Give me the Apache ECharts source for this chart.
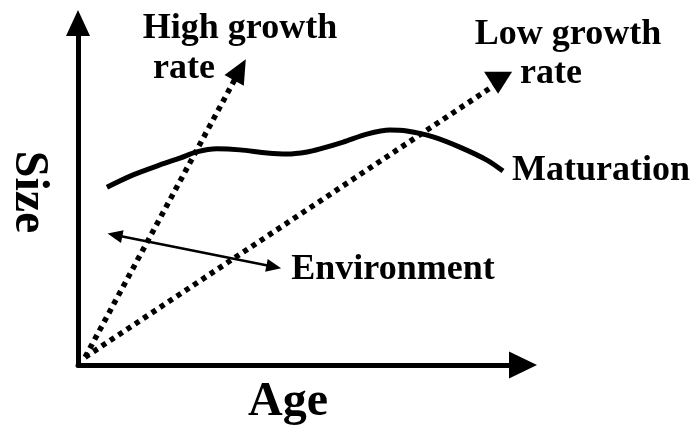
<!DOCTYPE html>
<html>
<head>
  <meta charset="utf-8">
  <title>Size vs Age</title>
  <style>
    html, body { margin: 0; padding: 0; background: #fff; }
  </style>
</head>
<body>
  <div id="main" style="width: 696px;height:434px;"></div>
</body>
<script src="https://cdn.jsdelivr.net/npm/echarts@6/dist/echarts.min.js"></script>
<script>
let myChart = echarts.init(document.querySelector('#main'))

// values in axis units (age 0-100, size 0-100)
let highGrowth = [[1.6, 2.3], [36.4, 86.3]];
let lowGrowth = [[1.6, 2.3], [94.4, 82.5]];
let maturation = [
    [6.5, 52.0], [12.4, 55.6], [18.4, 58.5], [22.9, 60.5], [26.7, 62.3],
    [31.2, 63.2], [36.4, 62.9], [42.5, 62.0], [47.0, 61.7], [51.5, 62.3],
    [54.4, 63.2], [59.6, 65.2], [64.9, 67.5], [70.1, 68.7], [73.9, 68.4],
    [79.8, 66.7], [85.8, 63.7], [91.9, 59.9], [95.5, 56.7]
];
let environment = [[8.3, 38.0], [44.0, 28.7]];

let font = 'Liberation Serif';

function label(text, x, y, size, rotation) {
    return {
        type: 'text',
        x: x,
        y: y,
        rotation: rotation || 0,
        style: {
            text: text,
            fill: '#000',
            font: 'bold ' + size + 'px "' + font + '"',
            textAlign: 'center',
            textVerticalAlign: 'middle'
        }
    };
}

let option = {
    animation: false,
    grid: { left: 78, right: 173, top: 23, bottom: 69 },
    xAxis: {
        type: 'value',
        min: 0,
        max: 100,
        splitLine: { show: false },
        axisTick: { show: false },
        axisLabel: { show: false },
        axisLine: {
            lineStyle: { color: '#000', width: 5 },
            symbol: ['none', 'triangle'],
            symbolSize: [27, 28]
        }
    },
    yAxis: {
        type: 'value',
        min: 0,
        max: 100,
        splitLine: { show: false },
        axisTick: { show: false },
        axisLabel: { show: false },
        axisLine: {
            lineStyle: { color: '#000', width: 5 },
            symbol: ['none', 'triangle'],
            symbolSize: [24, 26]
        }
    },
    series: [
        {
            name: 'High growth rate',
            type: 'line',
            symbol: 'none',
            lineStyle: { color: '#000', width: 5.5, type: [5, 5] },
            itemStyle: { color: '#000' },
            data: [
                highGrowth[0],
                { value: highGrowth[1], symbol: 'triangle', symbolSize: [22, 24], symbolRotate: -29 }
            ]
        },
        {
            name: 'Low growth rate',
            type: 'line',
            symbol: 'none',
            lineStyle: { color: '#000', width: 5.5, type: [5, 5] },
            itemStyle: { color: '#000' },
            data: [
                lowGrowth[0],
                { value: lowGrowth[1], symbol: 'triangle', symbolSize: [28, 22], symbolRotate: 180 }
            ]
        },
        {
            name: 'Maturation',
            type: 'line',
            smooth: 0.3,
            symbol: 'none',
            lineStyle: { color: '#000', width: 5 },
            data: maturation
        },
        {
            name: 'Environment',
            type: 'line',
            symbol: 'none',
            lineStyle: { color: '#000', width: 2.5 },
            itemStyle: { color: '#000' },
            data: [
                { value: environment[0], symbol: 'triangle', symbolSize: [13, 15], symbolRotate: 78.6 },
                { value: environment[1], symbol: 'triangle', symbolSize: [13, 15], symbolRotate: -101.4 }
            ]
        }
    ],
    graphic: [
        label('High growth', 240, 29, 36),
        label('rate', 184, 69, 36),
        label('Low growth', 568, 35, 36),
        label('rate', 551, 74, 36),
        label('Maturation', 601, 171, 36),
        label('Environment', 393, 270, 36),
        label('Age', 288, 403, 48),
        label('Size', 28, 192, 48, -Math.PI / 2)
    ]
};
myChart.setOption(option);
</script>
</html>
